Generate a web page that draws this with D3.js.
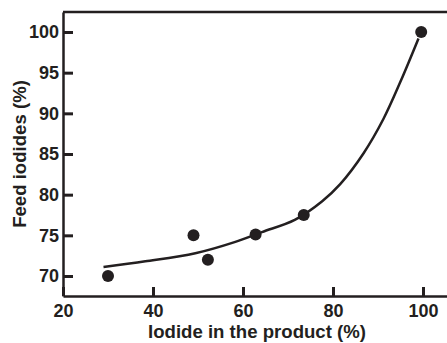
<!DOCTYPE html>
<html>
<head>
<meta charset="utf-8">
<script src="https://cdn.jsdelivr.net/npm/d3@7"></script>
<style>
    body { margin: 0; background: #fff; }
    svg { display: block; }
    .axis text { font-family: "Liberation Sans", Arial, Helvetica, sans-serif; font-weight: bold; font-size: 18px; fill: #231f20; }
    .title { font-family: "Liberation Sans", Arial, Helvetica, sans-serif; font-weight: bold; font-size: 18.6px; fill: #231f20; }
</style>
</head>
<body>
<div id="chart"></div>
<script>
// measured points
let iodideProduct = [30, 49, 52.2, 62.8, 73.5, 99.6];
let feedIodides = [70, 75, 72, 75.1, 77.5, 100];

// fitted curve
let fitX = [29, 38.3, 49.4, 58.3, 64.2, 71.5, 77.6, 81.6, 86.8, 91.2, 95, 99];
let fitY = [71.1, 71.8, 72.8, 74.2, 75.4, 76.9, 79.2, 81.3, 85.1, 89.3, 93.9, 99.2];

let xTicks = [20, 40, 60, 80, 100];
let yTicks = [70, 75, 80, 85, 90, 95, 100];

let W = 447, H = 343;
let margin = {top: 12, right: 0, bottom: 47, left: 63};
let ink = "#231f20";

let svg = d3.select("#chart").append("svg")
    .attr("width", W)
    .attr("height", H);

let x = d3.scaleLinear()
    .domain([20, 20 + (W - margin.left) / 4.5])
    .range([margin.left, W]);

let y = d3.scaleLinear()
    .domain([70 - 20 / 8.133, 100 + 20 / 8.133])
    .range([H - margin.bottom, margin.top]);

let xAxis = d3.axisBottom(x)
    .tickValues(xTicks)
    .tickSizeInner(-9)
    .tickSizeOuter(0)
    .tickPadding(8);

let yAxis = d3.axisLeft(y)
    .tickValues(yTicks)
    .tickSizeInner(-10)
    .tickSizeOuter(0)
    .tickPadding(4);

let gx = svg.append("g")
    .attr("class", "x-axis axis")
    .attr("transform", "translate(0," + (H - margin.bottom) + ")")
    .call(xAxis);

let gy = svg.append("g")
    .attr("class", "y-axis axis")
    .attr("transform", "translate(" + margin.left + ",0)")
    .call(yAxis);

svg.selectAll(".axis .domain").attr("stroke", ink).attr("stroke-width", 2.5);
svg.selectAll(".axis .tick line").attr("stroke", ink).attr("stroke-width", 3);

// top border
svg.append("line")
    .attr("x1", margin.left).attr("x2", W)
    .attr("y1", margin.top).attr("y2", margin.top)
    .attr("stroke", ink)
    .attr("stroke-width", 2.5);

// fitted curve
let fit = fitX.map((d, i) => [d, fitY[i]]);
svg.append("path")
    .datum(fit)
    .attr("fill", "none")
    .attr("stroke", ink)
    .attr("stroke-width", 2.5)
    .attr("d", d3.line()
        .x(d => x(d[0]))
        .y(d => y(d[1]))
        .curve(d3.curveCatmullRom.alpha(0.5)));

// points
svg.selectAll(".dot")
    .data(iodideProduct)
    .enter().append("circle")
    .attr("class", "dot")
    .attr("cx", d => x(d))
    .attr("cy", (d, i) => y(feedIodides[i]))
    .attr("r", 6)
    .attr("fill", ink);

// axis titles
svg.append("text")
    .attr("class", "title")
    .attr("x", 257)
    .attr("y", 338)
    .attr("text-anchor", "middle")
    .text("Iodide in the product (%)");

svg.append("text")
    .attr("class", "title")
    .attr("transform", "translate(26," + ((margin.top + H - margin.bottom) / 2) + ") rotate(-90)")
    .attr("text-anchor", "middle")
    .text("Feed iodides (%)");
</script>
</body>
</html>
